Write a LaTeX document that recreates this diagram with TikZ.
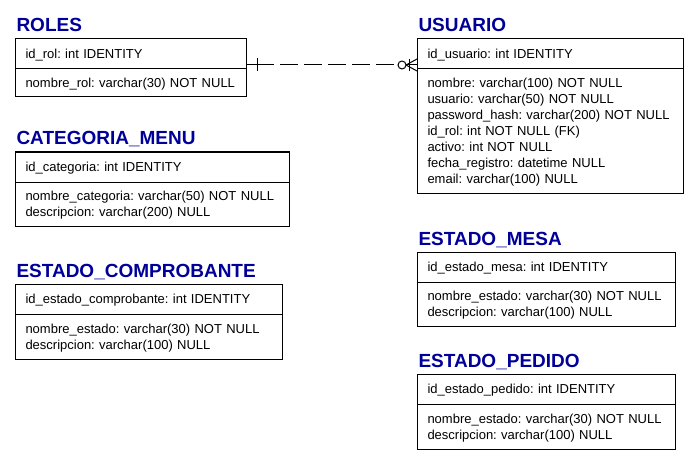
\documentclass[tikz,border=0pt]{standalone}
\usepackage{fontspec}
\setmainfont{Liberation Sans}
\usetikzlibrary{positioning}
\definecolor{titleblue}{RGB}{0,0,153}

\begin{document}
\begin{tikzpicture}[x=1pt, y=-1pt, line width=1pt,
    tabletitle/.style={anchor=base west, inner sep=0pt, text=titleblue,
      font=\fontsize{19}{20}\selectfont\bfseries},
    pkrow/.style={draw, anchor=north west, outer sep=0pt, align=left,
      inner xsep=10.5pt, inner ysep=0pt, minimum height=30pt, text width=#1,
      font=\fontsize{13}{16}\selectfont\frenchspacing,
      execute at begin node={\rule{0pt}{12pt}},
      execute at end node={\rule[-3pt]{0pt}{3pt}}},
    colrows/.style={pkrow=#1, anchor=north}]
  \useasboundingbox (0,0) rectangle (700,465);

  % ROLES
  \node[pkrow=210pt] (roles-pk) at (15,39) {id\_rol: int IDENTITY};
  \node[colrows=210pt, minimum height=28pt, below=0pt of roles-pk] (roles-cols)
    {nombre\_rol: varchar(30) NOT NULL};
  \node[tabletitle] (roles) at ([xshift=1pt, yshift=7pt]roles-pk.north west) {ROLES};

  % USUARIO
  \node[pkrow=245pt] (usuario-pk) at (417,39) {id\_usuario: int IDENTITY};
  \node[colrows=245pt, minimum height=124pt, below=0pt of usuario-pk] (usuario-cols)
    {nombre: varchar(100) NOT NULL\\
     usuario: varchar(50) NOT NULL\\
     password\_hash: varchar(200) NOT NULL\\
     id\_rol: int NOT NULL (FK)\\
     activo: int NOT NULL\\
     fecha\_registro: datetime NULL\\
     email: varchar(100) NULL};
  \node[tabletitle] (usuario) at ([xshift=1pt, yshift=7pt]usuario-pk.north west) {USUARIO};

  % CATEGORIA_MENU
  \node[pkrow=253pt] (categoria-pk) at (15,152) {id\_categoria: int IDENTITY};
  \node[colrows=253pt, minimum height=44pt, below=0pt of categoria-pk] (categoria-cols)
    {nombre\_categoria: varchar(50) NOT NULL\\
     descripcion: varchar(200) NULL};
  \node[tabletitle] (categoria) at ([xshift=1pt, yshift=7pt]categoria-pk.north west) {CATEGORIA\_MENU};

  % ESTADO_COMPROBANTE
  \node[pkrow=246pt] (comprobante-pk) at (15,284) {id\_estado\_comprobante: int IDENTITY};
  \node[colrows=246pt, minimum height=45pt, below=0pt of comprobante-pk] (comprobante-cols)
    {nombre\_estado: varchar(30) NOT NULL\\
     descripcion: varchar(100) NULL};
  \node[tabletitle] (comprobante) at ([xshift=1pt, yshift=7pt]comprobante-pk.north west) {ESTADO\_COMPROBANTE};

  % ESTADO_MESA
  \node[pkrow=237pt] (mesa-pk) at (417,252) {id\_estado\_mesa: int IDENTITY};
  \node[colrows=237pt, minimum height=44pt, below=0pt of mesa-pk] (mesa-cols)
    {nombre\_estado: varchar(30) NOT NULL\\
     descripcion: varchar(100) NULL};
  \node[tabletitle] (mesa) at ([xshift=1pt, yshift=7pt]mesa-pk.north west) {ESTADO\_MESA};

  % ESTADO_PEDIDO
  \node[pkrow=237pt] (pedido-pk) at (417,374) {id\_estado\_pedido: int IDENTITY};
  \node[colrows=237pt, minimum height=45pt, below=0pt of pedido-pk] (pedido-cols)
    {nombre\_estado: varchar(30) NOT NULL\\
     descripcion: varchar(100) NULL};
  \node[tabletitle] (pedido) at ([xshift=1pt, yshift=7pt]pedido-pk.north west) {ESTADO\_PEDIDO};

  % Relationship ROLES -> USUARIO
  \coordinate (fk-start) at ([yshift=4pt]roles-pk.south east);
  \coordinate (fk-end) at (fk-start -| usuario-pk.west);
  \draw (fk-start) -- ([xshift=28pt]fk-start);
  \draw[dash pattern=on 18pt off 6pt] ([xshift=34pt]fk-start) -- ([xshift=-19pt]fk-end);
  \draw ([xshift=11pt, yshift=6.5pt]fk-start) -- ([xshift=11pt, yshift=-6.5pt]fk-start);
  \draw ([xshift=-15pt]fk-end) circle[radius=4pt];
  \draw ([xshift=-8pt, yshift=6pt]fk-end) -- ([xshift=-8pt, yshift=-6pt]fk-end);
  \foreach \dy in {6,0,-6}
    \draw ([xshift=-11pt]fk-end) -- ([yshift=\dy pt]fk-end);

\end{tikzpicture}
\end{document}
